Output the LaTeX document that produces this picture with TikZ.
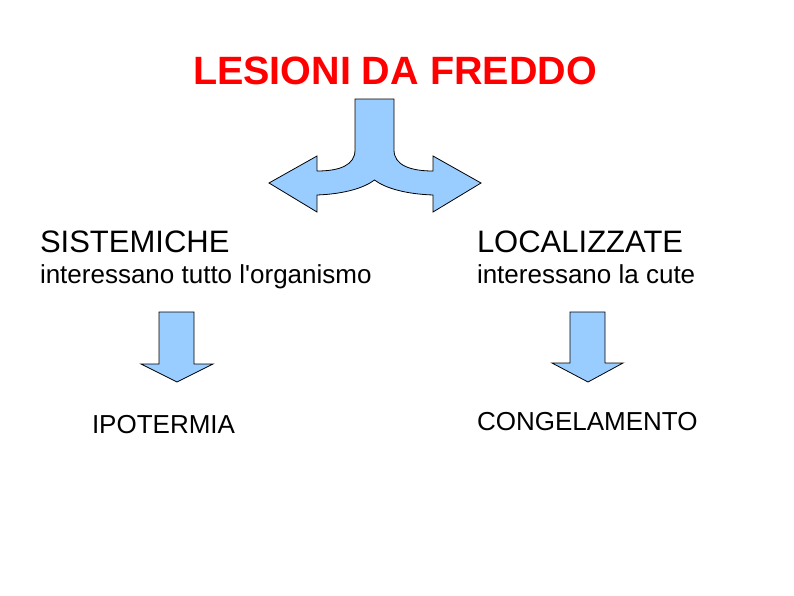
\documentclass[tikz,border=0pt]{standalone}
\usepackage{fontspec}
\setmainfont{Liberation Sans}
\usepackage{tikz}
\definecolor{arrowblue}{RGB}{153,204,255}
\definecolor{titlered}{RGB}{255,0,0}

\begin{document}
\begin{tikzpicture}[x=1pt,y=-1pt]
    \tikzset{blockarrow/.style = {fill=arrowblue,draw=black,line width=0.8pt,line join=miter}}
    \tikzset{label/.style = {anchor=base west,inner sep=0pt,outer sep=0pt}}
    \tikzset{title/.style = {label,font=\fontsize{39.5}{44}\selectfont\bfseries,text=titlered}}
    \tikzset{head/.style = {label,font=\fontsize{31}{36}\selectfont}}
    \tikzset{sub/.style = {label,font=\fontsize{26}{30}\selectfont}}
    \useasboundingbox (0,0) rectangle (794,595);
    % title
    \node[title] (les) at (193,84) {LESIONI DA FREDDO};
    % split arrow
    \draw[blockarrow] (355,99) -- (394,99) -- (394,150)
        .. controls (394,165) and (410,171) .. (433,171)
        -- (433,156) -- (481,183) -- (433,212) -- (433,195)
        .. controls (405,194) and (385,188) .. (374.5,180)
        .. controls (364,188) and (344,194) .. (317,195)
        -- (317,212) -- (269,183) -- (317,156) -- (317,171)
        .. controls (340,171) and (355,165) .. (355,150) -- cycle;
%%%%%%%%%%%%%%%%%
    \node[head] (sis) at (40,252) {SISTEMICHE};
    \node[sub] (sisd) at (40,283) {interessano tutto l\textquotesingle organismo};
    \node[head] (loc) at (477,252) {LOCALIZZATE};
    \node[sub] (locd) at (477,283) {interessano la cute};
%%%%%%%%%%%%%%%%%
    \draw[blockarrow] (159,312) -- (194,312) -- (194,364) -- (213,364)
        -- (177,382) -- (141,364) -- (159,364) -- cycle;
    \draw[blockarrow] (570,312) -- (605,312) -- (605,363) -- (623,363)
        -- (588,382) -- (552,363) -- (570,363) -- cycle;
%%%%%%%%%%%%%%%%%
    \node[sub] (ipo) at (92,433) {IPOTERMIA};
    \node[sub] (con) at (477,430) {CONGELAMENTO};
\end{tikzpicture}
\end{document}
